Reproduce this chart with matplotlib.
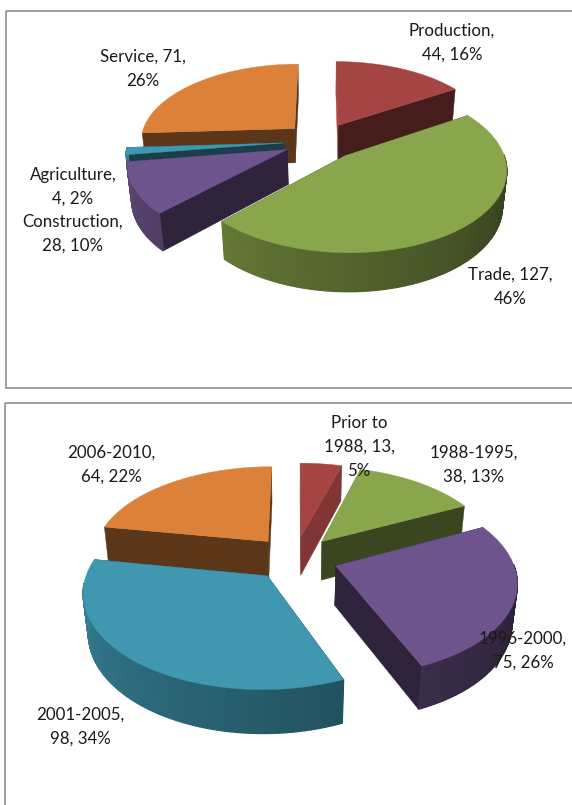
import numpy as np
import matplotlib
matplotlib.use("Agg")
import matplotlib.pyplot as plt
from matplotlib.colors import to_rgb
from matplotlib.patches import Rectangle

plt.rcParams["font.family"] = ["Lato", "DejaVu Sans"]

# -- data ---------------------------------------------------------------------
sectors = ["Production", "Trade", "Construction", "Agriculture", "Service"]
sector_values = [44, 127, 28, 4, 71]
sector_pct = [16, 46, 10, 2, 26]

periods = ["Prior to 1988", "1988-1995", "1996-2000", "2001-2005", "2006-2010"]
period_values = [13, 38, 75, 98, 64]
period_pct = [5, 13, 26, 34, 22]

# -- styles -------------------------------------------------------------------
RED, GREEN, PURPLE, TEAL, ORANGE = "#A54543", "#8AA64C", "#6E548C", "#3F97B0", "#DB813A"
sector_colors = [RED, GREEN, PURPLE, TEAL, ORANGE]
period_colors = [RED, GREEN, PURPLE, TEAL, ORANGE]

sector_text = ["Production,\n{}, {}%", "Trade, {},\n{}%", "Construction,\n{}, {}%",
               "Agriculture,\n{}, {}%", "Service, {},\n{}%"]
sector_xy = [(452, 43), (510, 287), (73, 234), (73, 187), (143, 69)]
period_text = ["Prior to\n1988, {},\n{}%", "1988-1995,\n{}, {}%", "1996-2000,\n{}, {}%",
               "2001-2005,\n{}, {}%", "2006-2010,\n{}, {}%"]
period_xy = [(359, 447), (474, 465), (523, 651), (80, 727), (111, 465)]


def project(X, Y, z, cam):
    d = 1 + (Y * cam["c"] - z * cam["s"]) / cam["f"]
    return cam["cx"] + X / d, cam["cy"] - (Y * cam["s"] + z * cam["c"]) / d


def side_shade(deg):
    return np.clip(0.35 + 0.5 * (deg - 90) / 180, 0.3, 0.85)


def edge_shade(deg):
    return 0.42 + 0.6 * max(0, 1 - deg / 40)


def darker(col, k):
    return tuple(v * k for v in to_rgb(col))


def draw_pie(ax, values, colors, r, t, expl, elev, f, cx, cy):
    cam = {"c": np.cos(np.radians(elev)), "s": np.sin(np.radians(elev)), "f": f, "cx": cx, "cy": cy}
    edges = np.concatenate([[0], np.cumsum(values)]) / np.sum(values) * 360
    mids = (edges[:-1] + edges[1:]) / 2
    # back slices first
    for i in np.argsort(-np.cos(np.radians(mids))):
        a0, a1 = edges[i], edges[i + 1]
        ox = expl * np.sin(np.radians(mids[i]))
        oy = expl * np.cos(np.radians(mids[i]))
        th = np.radians(np.linspace(a0, a1, max(int(a1 - a0), 4)))
        ax_x = ox + r * np.sin(th)
        ax_y = oy + r * np.cos(th)

        # flat cut faces
        for a in (a0, a1):
            ex = ox + r * np.sin(np.radians(a))
            ey = oy + r * np.cos(np.radians(a))
            p = [project(ox, oy, 0, cam), project(ex, ey, 0, cam),
                 project(ex, ey, -t, cam), project(ox, oy, -t, cam)]
            col = darker(colors[i], edge_shade(a))
            ax.fill(*zip(*p), color=col, lw=0.3, zorder=2)

        # outer rim, only the part facing us
        for j in range(len(th) - 1):
            deg = np.degrees(th[j])
            if np.cos(th[j]) > 0.03 or (deg > 180 and np.cos(th[j]) > -0.08):
                continue
            p = [project(ax_x[j], ax_y[j], 0, cam), project(ax_x[j + 1], ax_y[j + 1], 0, cam),
                 project(ax_x[j + 1], ax_y[j + 1], -t, cam), project(ax_x[j], ax_y[j], -t, cam)]
            col = darker(colors[i], side_shade(deg))
            ax.fill(*zip(*p), color=col, lw=1.0, zorder=2)

        # top face
        top_x = np.concatenate([[ox], ax_x])
        top_y = np.concatenate([[oy], ax_y])
        sx, sy = project(top_x, top_y, 0, cam)
        ax.fill(sx, sy, color=colors[i], lw=0.3, zorder=2)


fig = plt.figure(figsize=(5.72, 8.05), dpi=100)
ax = fig.add_axes([0, 0, 1, 1])
ax.set_xlim(0, 572)
ax.set_ylim(805, 0)
ax.axis("off")

# chart frames run off the right/bottom of the scan
ax.add_patch(Rectangle((6, 11), 600, 377, fill=False, ec="#8f8f8f", lw=1.2))
ax.add_patch(Rectangle((4.5, 403), 600, 450, fill=False, ec="#8f8f8f", lw=1.2))

draw_pie(ax, sector_values, sector_colors, r=155, t=41, expl=37, elev=30, f=900, cx=321, cy=141)
draw_pie(ax, period_values, period_colors, r=176, t=47, expl=43, elev=31, f=1000, cx=295, cy=558)

for txt, v, pc, (x, y) in zip(sector_text, sector_values, sector_pct, sector_xy):
    ax.text(x, y, txt.format(v, pc), ha="center", va="center", fontsize=12.2,
            linespacing=1.62, color="#1a1a1a", zorder=5)
for txt, v, pc, (x, y) in zip(period_text, period_values, period_pct, period_xy):
    ax.text(x, y, txt.format(v, pc), ha="center", va="center", fontsize=12.2,
            linespacing=1.62, color="#1a1a1a", zorder=5)

fig.savefig("out.png", dpi=100, facecolor="white")
